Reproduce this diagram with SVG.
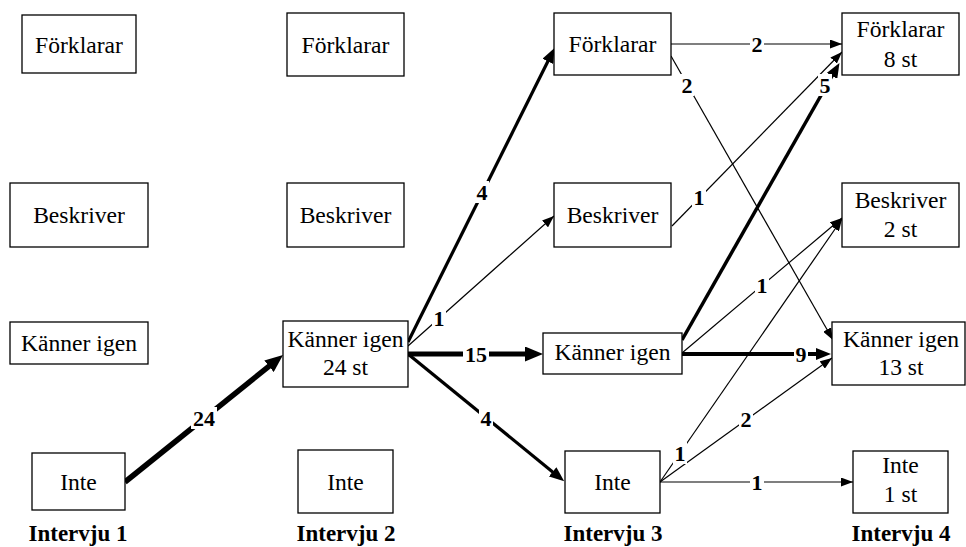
<svg xmlns="http://www.w3.org/2000/svg" width="966" height="547" viewBox="0 0 966 547">
<defs>
<marker id="a1" markerUnits="userSpaceOnUse" viewBox="0 0 12 9" markerWidth="12" markerHeight="9" refX="12" refY="4.5" orient="auto"><path d="M0,0 L12,4.5 L0,9 z" fill="#000"/></marker>
<marker id="a2" markerUnits="userSpaceOnUse" viewBox="0 0 15 12" markerWidth="15" markerHeight="12" refX="8" refY="6" orient="auto"><path d="M0,0 L15,6 L0,12 z" fill="#000"/></marker>
<marker id="a3" markerUnits="userSpaceOnUse" viewBox="0 0 18 15" markerWidth="18" markerHeight="15" refX="9" refY="7.5" orient="auto"><path d="M0,0 L18,7.5 L0,15 z" fill="#000"/></marker>
</defs>
<style>
.box{fill:#fff;stroke:#000;stroke-width:1.3}
.e{stroke:#000;fill:none}
.thin{stroke-width:1.2;marker-end:url(#a1)}
.bg{fill:#fff}
</style>
<rect width="966" height="547" fill="#fff"/>
<g id="connectors">
<line class="e" x1="125" y1="482" x2="276" y2="360.6" stroke-width="5.5" marker-end="url(#a3)"/>
<line class="e" x1="408" y1="342" x2="551.4" y2="54.2" stroke-width="3.2" marker-end="url(#a2)"/>
<line class="e thin" x1="408" y1="346" x2="554" y2="216"/>
<line class="e" x1="408" y1="354" x2="534" y2="354" stroke-width="4.8" marker-end="url(#a3)"/>
<line class="e" x1="408" y1="354" x2="558.8" y2="476.9" stroke-width="3.2" marker-end="url(#a2)"/>
<line class="e thin" x1="671" y1="44" x2="842" y2="44"/>
<line class="e thin" x1="671" y1="56" x2="833" y2="340"/>
<line class="e thin" x1="672" y1="226" x2="842" y2="52"/>
<line class="e" x1="682" y1="340" x2="836" y2="69" stroke-width="3.5" marker-end="url(#a2)"/>
<line class="e thin" x1="682" y1="353" x2="842" y2="218"/>
<line class="e" x1="682" y1="354" x2="824" y2="354" stroke-width="4.2" marker-end="url(#a2)"/>
<line class="e thin" x1="660" y1="482" x2="842" y2="219"/>
<line class="e thin" x1="660" y1="482" x2="832" y2="358"/>
<line class="e thin" x1="660" y1="482" x2="853" y2="482"/>
<g id="edge-labels" font-size="22" font-weight="bold" text-anchor="middle" fill="#000">
<rect class="bg" x="191" y="407" width="26" height="22"/><text font-family="Liberation Serif" x="204" y="426">24</text>
<rect class="bg" x="475" y="181" width="14" height="22"/><text font-family="Liberation Serif" x="482" y="200">4</text>
<rect class="bg" x="432" y="307" width="14" height="22"/><text font-family="Liberation Serif" x="439" y="326">1</text>
<rect class="bg" x="463" y="343" width="26" height="22"/><text font-family="Liberation Serif" x="476" y="362">15</text>
<rect class="bg" x="479" y="407" width="14" height="22"/><text font-family="Liberation Serif" x="486" y="426">4</text>
<rect class="bg" x="750" y="33" width="14" height="22"/><text font-family="Liberation Serif" x="757" y="52">2</text>
<rect class="bg" x="680" y="74" width="14" height="22"/><text font-family="Liberation Serif" x="687" y="93">2</text>
<rect class="bg" x="692" y="186" width="14" height="22"/><text font-family="Liberation Serif" x="699" y="205">1</text>
<rect class="bg" x="818" y="74" width="14" height="22"/><text font-family="Liberation Serif" x="825" y="93">5</text>
<rect class="bg" x="755" y="274" width="14" height="22"/><text font-family="Liberation Serif" x="762" y="293">1</text>
<rect class="bg" x="794" y="343" width="14" height="22"/><text font-family="Liberation Serif" x="801" y="362">9</text>
<rect class="bg" x="673" y="442" width="14" height="22"/><text font-family="Liberation Serif" x="680" y="461">1</text>
<rect class="bg" x="739" y="408" width="14" height="22"/><text font-family="Liberation Serif" x="746" y="427">2</text>
<rect class="bg" x="750" y="471" width="14" height="22"/><text font-family="Liberation Serif" x="757" y="490">1</text>
</g>
</g>
<g id="nodes" font-size="23.6" text-anchor="middle" fill="#000">
<g id="n1f"><rect class="box" x="22" y="15" width="114" height="58"/><text font-family="Liberation Serif" x="79" y="53">Förklarar</text></g>
<g id="n1b"><rect class="box" x="10" y="183" width="138" height="64"/><text font-family="Liberation Serif" x="79" y="223">Beskriver</text></g>
<g id="n1k"><rect class="box" x="10" y="322" width="138" height="42"/><text font-family="Liberation Serif" x="79" y="351">Känner igen</text></g>
<g id="n1i"><rect class="box" x="32" y="453" width="93" height="57"/><text font-family="Liberation Serif" x="78.5" y="490">Inte</text></g>
<g id="n2f"><rect class="box" x="287" y="13" width="117" height="63"/><text font-family="Liberation Serif" x="345.5" y="53">Förklarar</text></g>
<g id="n2b"><rect class="box" x="287" y="183" width="117" height="64"/><text font-family="Liberation Serif" x="345.5" y="223">Beskriver</text></g>
<g id="n2k"><rect class="box" x="283" y="321" width="125" height="66"/><text font-family="Liberation Serif" x="345.5" y="347">Känner igen</text><text font-family="Liberation Serif" x="345.5" y="375">24 st</text></g>
<g id="n2i"><rect class="box" x="298" y="450" width="95" height="63"/><text font-family="Liberation Serif" x="345.5" y="490">Inte</text></g>
<g id="n3f"><rect class="box" x="554" y="13" width="117" height="62"/><text font-family="Liberation Serif" x="612.5" y="52">Förklarar</text></g>
<g id="n3b"><rect class="box" x="554" y="183" width="117" height="64"/><text font-family="Liberation Serif" x="612.5" y="223">Beskriver</text></g>
<g id="n3k"><rect class="box" x="543" y="333" width="139" height="41"/><text font-family="Liberation Serif" x="612.5" y="360">Känner igen</text></g>
<g id="n3i"><rect class="box" x="565" y="451" width="95" height="62"/><text font-family="Liberation Serif" x="612.5" y="490">Inte</text></g>
<g id="n4f"><rect class="box" x="842" y="13" width="117" height="62"/><text font-family="Liberation Serif" x="900.5" y="37">Förklarar</text><text font-family="Liberation Serif" x="900.5" y="67">8 st</text></g>
<g id="n4b"><rect class="box" x="842" y="183" width="117" height="64"/><text font-family="Liberation Serif" x="900.5" y="208">Beskriver</text><text font-family="Liberation Serif" x="900.5" y="237">2 st</text></g>
<g id="n4k"><rect class="box" x="832" y="322" width="133" height="63"/><text font-family="Liberation Serif" x="901" y="347">Känner igen</text><text font-family="Liberation Serif" x="901" y="375">13 st</text></g>
<g id="n4i"><rect class="box" x="853" y="451" width="95" height="62"/><text font-family="Liberation Serif" x="900.5" y="473">Inte</text><text font-family="Liberation Serif" x="900.5" y="502">1 st</text></g>
</g>
<g id="headers" font-size="23" font-weight="bold" text-anchor="middle" fill="#000">
<text font-family="Liberation Serif" x="78" y="541">Intervju 1</text>
<text font-family="Liberation Serif" x="346" y="541">Intervju 2</text>
<text font-family="Liberation Serif" x="613" y="541">Intervju 3</text>
<text font-family="Liberation Serif" x="901" y="541">Intervju 4</text>
</g>
</svg>
